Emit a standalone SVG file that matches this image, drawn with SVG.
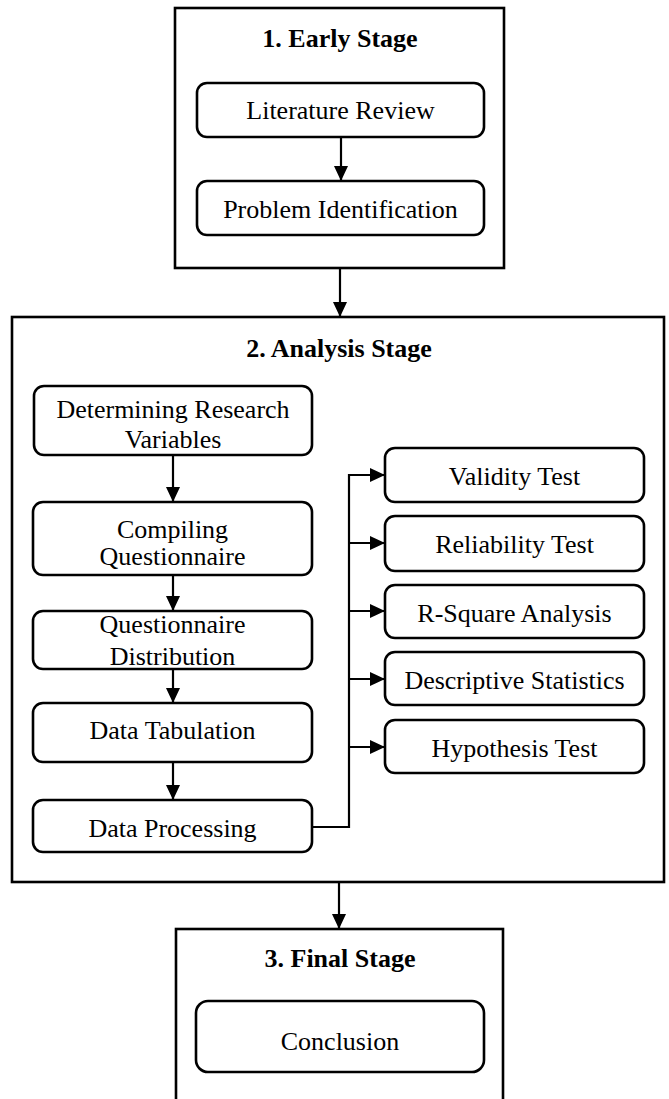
<svg xmlns="http://www.w3.org/2000/svg" width="669" height="1099" viewBox="0 0 669 1099">
  <style>
    .stage { fill: #ffffff; stroke: #000000; stroke-width: 2.6; }
    .step { fill: #ffffff; stroke: #000000; stroke-width: 2.6; }
    .title { font-family: "Liberation Serif", "Times New Roman", serif; font-size: 26px; font-weight: bold; fill: #000000; text-anchor: middle; }
    .label { font-family: "Liberation Serif", "Times New Roman", serif; font-size: 26px; fill: #000000; text-anchor: middle; }
    .wire { fill: none; stroke: #000000; stroke-width: 2.2; }
  </style>
  <defs>
    <marker id="arrow" markerUnits="userSpaceOnUse" markerWidth="16" markerHeight="14" refX="15" refY="7" orient="auto">
      <path d="M0,0 L15,7 L0,14 Z" fill="#000000"/>
    </marker>
  </defs>

  <rect width="669" height="1099" fill="#ffffff"/>

  <!-- Stage containers -->
  <g id="stage-early">
    <rect class="stage" x="175" y="8" width="329" height="260"/>
    <text class="title" x="340" y="47">1. Early Stage</text>
  </g>
  <g id="stage-analysis">
    <rect class="stage" x="12" y="317" width="652" height="565"/>
    <text class="title" x="339" y="357">2. Analysis Stage</text>
  </g>
  <g id="stage-final">
    <rect class="stage" x="176" y="929" width="327" height="200"/>
    <text class="title" x="340" y="967">3. Final Stage</text>
  </g>

  <!-- Early stage steps -->
  <g id="literature-review">
    <rect class="step" x="197" y="83" width="287" height="54" rx="10"/>
    <text class="label" x="340.5" y="119">Literature Review</text>
  </g>
  <g id="problem-identification">
    <rect class="step" x="197" y="181" width="287" height="54" rx="10"/>
    <text class="label" x="340.5" y="217.5">Problem Identification</text>
  </g>

  <!-- Analysis stage: left column -->
  <g id="determining-variables">
    <rect class="step" x="34" y="386" width="278" height="69" rx="10"/>
    <text class="label" x="173" y="418">Determining Research</text>
    <text class="label" x="173" y="448">Variables</text>
  </g>
  <g id="compiling-questionnaire">
    <rect class="step" x="33" y="502" width="279" height="73" rx="10"/>
    <text class="label" x="172.5" y="538">Compiling</text>
    <text class="label" x="172.5" y="565">Questionnaire</text>
  </g>
  <g id="questionnaire-distribution">
    <rect class="step" x="33" y="611" width="279" height="58" rx="10"/>
    <text class="label" x="172.5" y="633">Questionnaire</text>
    <text class="label" x="172.5" y="665">Distribution</text>
  </g>
  <g id="data-tabulation">
    <rect class="step" x="33" y="703" width="279" height="59" rx="10"/>
    <text class="label" x="172.5" y="739">Data Tabulation</text>
  </g>
  <g id="data-processing">
    <rect class="step" x="33" y="800" width="279" height="52" rx="10"/>
    <text class="label" x="172.5" y="837">Data Processing</text>
  </g>

  <!-- Analysis stage: right column -->
  <g id="validity-test">
    <rect class="step" x="385" y="448" width="259" height="54" rx="10"/>
    <text class="label" x="514.5" y="484.5">Validity Test</text>
  </g>
  <g id="reliability-test">
    <rect class="step" x="385" y="516" width="259" height="55" rx="10"/>
    <text class="label" x="514.5" y="553">Reliability Test</text>
  </g>
  <g id="r-square-analysis">
    <rect class="step" x="385" y="585" width="259" height="53" rx="10"/>
    <text class="label" x="514.5" y="621.5">R-Square Analysis</text>
  </g>
  <g id="descriptive-statistics">
    <rect class="step" x="385" y="652" width="259" height="53" rx="10"/>
    <text class="label" x="514.5" y="688.5">Descriptive Statistics</text>
  </g>
  <g id="hypothesis-test">
    <rect class="step" x="385" y="720" width="259" height="53" rx="10"/>
    <text class="label" x="514.5" y="756.5">Hypothesis Test</text>
  </g>

  <!-- Final stage step -->
  <g id="conclusion">
    <rect class="step" x="196" y="1001" width="288" height="71" rx="12"/>
    <text class="label" x="340" y="1050">Conclusion</text>
  </g>

  <!-- Connectors -->
  <g id="connectors">
    <line class="wire" x1="341" y1="137" x2="341" y2="181" marker-end="url(#arrow)"/>
    <line class="wire" x1="340" y1="268" x2="340" y2="317" marker-end="url(#arrow)"/>
    <line class="wire" x1="173" y1="455" x2="173" y2="502" marker-end="url(#arrow)"/>
    <line class="wire" x1="173" y1="575" x2="173" y2="611" marker-end="url(#arrow)"/>
    <line class="wire" x1="173" y1="669" x2="173" y2="703" marker-end="url(#arrow)"/>
    <line class="wire" x1="173" y1="762" x2="173" y2="800" marker-end="url(#arrow)"/>
    <polyline class="wire" points="312,827 349,827 349,475 385,475" marker-end="url(#arrow)"/>
    <line class="wire" x1="349" y1="543" x2="385" y2="543" marker-end="url(#arrow)"/>
    <line class="wire" x1="349" y1="611" x2="385" y2="611" marker-end="url(#arrow)"/>
    <line class="wire" x1="349" y1="679" x2="385" y2="679" marker-end="url(#arrow)"/>
    <line class="wire" x1="349" y1="747" x2="385" y2="747" marker-end="url(#arrow)"/>
    <line class="wire" x1="339" y1="882" x2="339" y2="929" marker-end="url(#arrow)"/>
  </g>
</svg>
